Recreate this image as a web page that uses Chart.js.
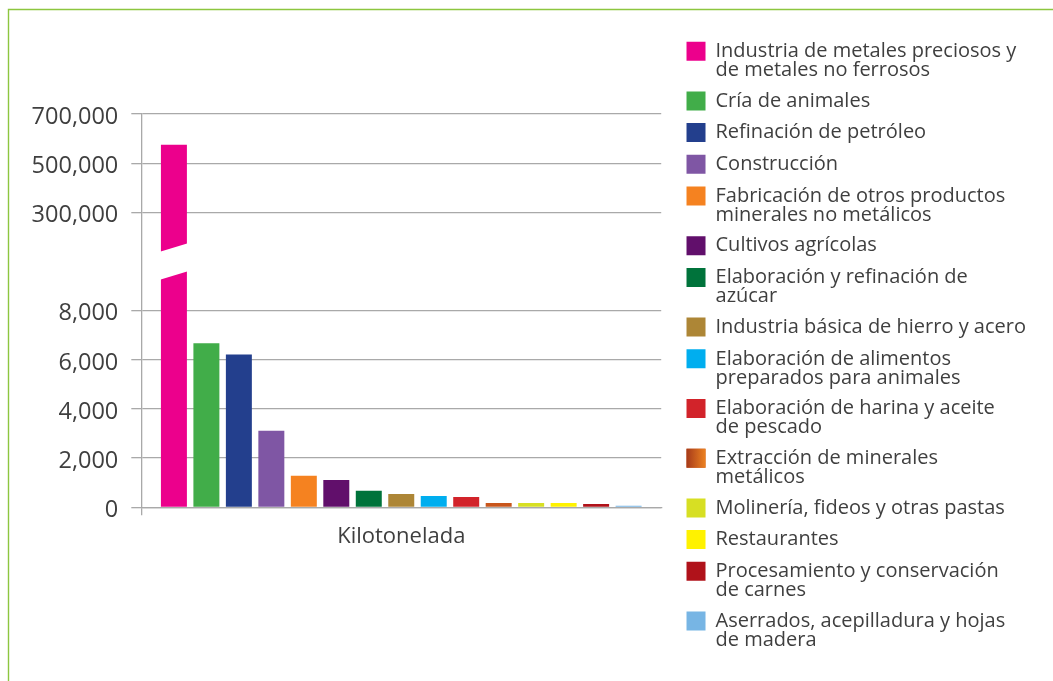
<!DOCTYPE html>
<html lang="es">
<head>
<meta charset="utf-8">
<title>Emisiones por actividad</title>
<script src="https://cdn.jsdelivr.net/npm/chart.js@4.4.1/dist/chart.umd.min.js"></script>
<style>
    html, body { margin: 0; padding: 0; background: #fff; }
    canvas { display: block; }
</style>
</head>
<body>
<canvas id="grafico" width="1053" height="681"></canvas>
<script>
/* ============================
   Datos
============================ */
const categorias = ["Kilotonelada"];

const sectores = [
    ["Industria de metales preciosos y", "de metales no ferrosos"],
    "Cría de animales",
    "Refinación de petróleo",
    "Construcción",
    ["Fabricación de otros productos", "minerales no metálicos"],
    "Cultivos agrícolas",
    ["Elaboración y refinación de", "azúcar"],
    "Industria básica de hierro y acero",
    ["Elaboración de alimentos", "preparados para animales"],
    ["Elaboración de harina y aceite", "de pescado"],
    ["Extracción de minerales", "metálicos"],
    "Molinería, fideos y otras pastas",
    "Restaurantes",
    ["Procesamiento y conservación", "de carnes"],
    ["Aserrados, acepilladura y hojas", "de madera"],
];

// kilotoneladas
const valores = [575000, 6670, 6220, 3110, 1280, 1110, 670, 540, 460, 420, 180, 170, 170, 135, 65];

const colores = [
    "#EC008C", "#41AD49", "#233F8D", "#7F56A4", "#F58220",
    "#610F6B", "#00733B", "#AD8636", "#00AEEF", "#D2232A",
    "#C8561C", "#D7DF23", "#FFF200", "#B0121A", "#77B5E4",
];

// ticks del eje (con corte entre 8,000 y 300,000)
const ticksEje = [0, 2000, 4000, 6000, 8000, 300000, 500000, 700000];

/* ============================
   Eje cortado
============================ */
const CORTE_BAJO = 8000;
const CORTE_ALTO = 300000;
const PASO_BAJO = 2000;
const PASO_ALTO = 200000;
const POS_CORTE = 5; // hueco entre 4 (8,000) y 6 (300,000)

const aEje = (v) =>
    v <= CORTE_BAJO ? v / PASO_BAJO : POS_CORTE + 1 + (v - CORTE_ALTO) / PASO_ALTO;

const fmt = (v) => v.toLocaleString("en-US");

const GRIS = "#a9a9a9";
const TEXTO = "#3f3f3f";
const FUENTE = "'Open Sans', 'Noto Sans', sans-serif";
const CAJA = 19;

/* ============================
   Plugins
============================ */
const marco = {
    id: "marco",
    beforeDraw(chart) {
        const { ctx, width, height } = chart;
        ctx.save();
        ctx.strokeStyle = "#8DC63F";
        ctx.lineWidth = 1.4;
        ctx.beginPath();
        ctx.moveTo(8.5, height);
        ctx.lineTo(8.5, 9.5);
        ctx.lineTo(width, 9.5);
        ctx.stroke();
        ctx.restore();
    }
};

const corteBarra = {
    id: "corteBarra",
    afterDatasetsDraw(chart) {
        const bar = chart.getDatasetMeta(0).data[0];
        if (!bar) return;
        const yc = chart.scales.y.getPixelForValue(POS_CORTE);
        const half = bar.width / 2 + 1;
        const incl = 4.3, hueco = 14;
        const ctx = chart.ctx;
        ctx.save();
        ctx.fillStyle = "#fff";
        ctx.beginPath();
        ctx.moveTo(bar.x - half, yc + incl - hueco);
        ctx.lineTo(bar.x + half, yc - incl - hueco);
        ctx.lineTo(bar.x + half, yc - incl + hueco);
        ctx.lineTo(bar.x - half, yc + incl + hueco);
        ctx.closePath();
        ctx.fill();
        ctx.restore();
    }
};

// la caja de "Extracción de minerales metálicos" lleva degradado
const cajaDegradado = {
    id: "cajaDegradado",
    afterDraw(chart) {
        const hb = chart.legend && chart.legend.legendHitBoxes[10];
        if (!hb) return;
        const ctx = chart.ctx;
        const top = hb.top + Math.max((20 - CAJA) / 2, 0);
        const g = ctx.createLinearGradient(hb.left, 0, hb.left + CAJA, 0);
        g.addColorStop(0, "#A63A1A");
        g.addColorStop(1, "#EC8221");
        ctx.save();
        ctx.fillStyle = g;
        ctx.fillRect(hb.left, top, CAJA, CAJA);
        ctx.restore();
    }
};

/* ============================
   Gráfica
============================ */
const datasets = sectores.map((s, i) => ({
    label: s,
    data: [aEje(valores[i])],
    backgroundColor: colores[i],
    borderWidth: 0,
    barPercentage: 0.8,
    categoryPercentage: 0.937,
    xAxisID: "x",
    yAxisID: "y",
}));

new Chart(document.getElementById("grafico"), {
    type: "bar",
    data: { labels: categorias, datasets },
    options: {
        responsive: false,
        animation: false,
        layout: { padding: { top: 29.5, right: 17, bottom: 0, left: 0 } },
        plugins: {
            tooltip: { enabled: false },
            legend: {
                position: "right",
                align: "start",
                maxWidth: 420,
                labels: {
                    boxWidth: CAJA,
                    boxHeight: CAJA,
                    padding: 11.7,
                    color: TEXTO,
                    font: { family: FUENTE, size: 20, lineHeight: 0.95 },
                },
            },
        },
        scales: {
            x: {
                type: "category",
                position: "bottom",
                grid: {
                    drawOnChartArea: false,
                    tickLength: 8,
                    lineWidth: 1.3,
                    color: (c) => (c.index === 0 ? GRIS : "rgba(0,0,0,0)"),
                },
                border: { color: GRIS, width: 1.3 },
                ticks: { color: TEXTO, padding: 8, font: { family: FUENTE, size: 22 } },
                afterFit: (s) => { s.height = 173.7; },
            },
            y: {
                type: "linear",
                position: "left",
                min: 0,
                max: 8,
                grid: { color: GRIS, lineWidth: 1.3, tickLength: 10 },
                border: { color: GRIS, width: 1.3 },
                afterBuildTicks: (s) => { s.ticks = ticksEje.map((v) => ({ value: aEje(v) })); },
                ticks: {
                    autoSkip: false,
                    padding: 13,
                    labelOffset: 3,
                    color: TEXTO,
                    font: { family: FUENTE, size: 23.5 },
                    callback: (v, i) => fmt(ticksEje[i]),
                },
                afterFit: (s) => { s.width = 141.3; },
            },
            // espacios en blanco arriba y entre el área y la leyenda
            margenSup: {
                type: "linear",
                position: "top",
                grid: { display: false },
                border: { display: false },
                ticks: { display: false },
                afterFit: (s) => { s.height = 84.5; },
            },
            margenDer: {
                type: "linear",
                position: "right",
                grid: { display: false },
                border: { display: false },
                ticks: { display: false },
                afterFit: (s) => { s.width = 13.6; },
            },
        },
    },
    plugins: [marco, corteBarra, cajaDegradado],
});
</script>
</body>
</html>
